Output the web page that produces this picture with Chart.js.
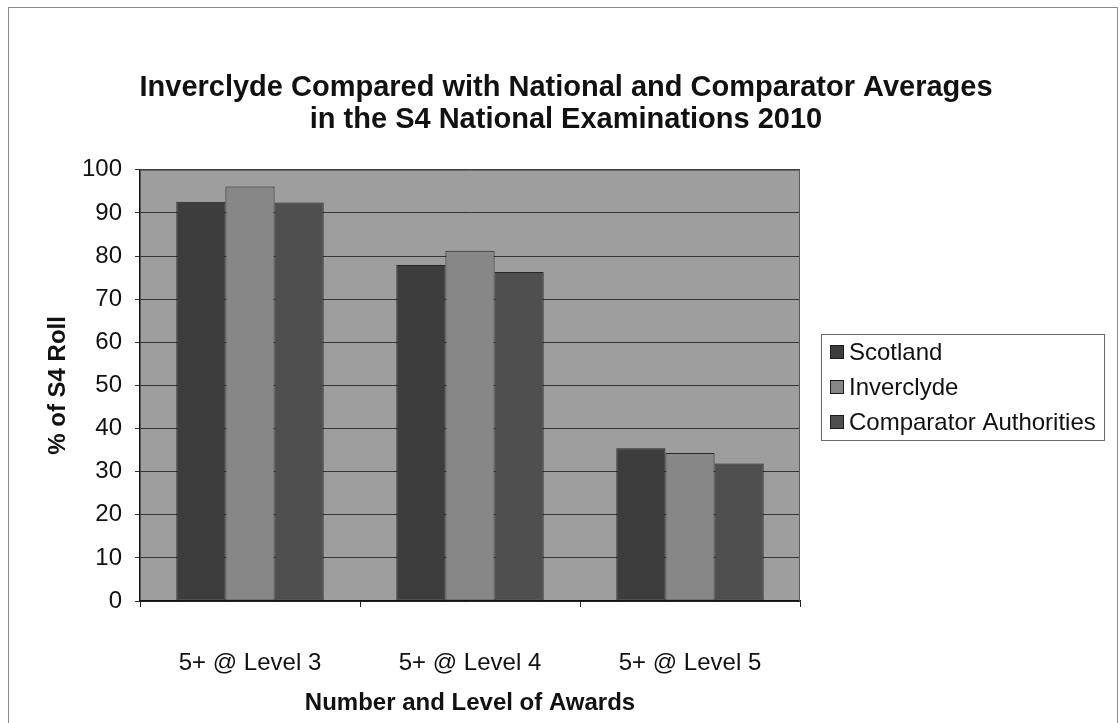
<!DOCTYPE html>
<html>
<head>
<meta charset="utf-8">
<style>
  html, body { margin: 0; padding: 0; background: #ffffff; }
  #wrap { position: relative; width: 1120px; height: 723px; }
  canvas { display: block; }
</style>
<script src="https://cdn.jsdelivr.net/npm/chart.js@4.4.1/dist/chart.umd.min.js"></script>
</head>
<body>
<div id="wrap"><canvas id="chart" width="1120" height="723"></canvas></div>
<script>
// Award categories and percentage of S4 roll for each group
const categories = ['5+ @ Level 3', '5+ @ Level 4', '5+ @ Level 5'];
const scotland = [92.6, 77.9, 35.4];
const inverclyde = [96.1, 81.2, 34.3];
const comparator = [92.4, 76.3, 31.9];
const seriesNames = ['Scotland', 'Inverclyde', 'Comparator Authorities'];
const yTicks = [0, 10, 20, 30, 40, 50, 60, 70, 80, 90, 100];
const titleLines = ['Inverclyde Compared with National and Comparator Averages',
                    'in the S4 National Examinations 2010'];

const FONT = "'Liberation Sans', Arial, sans-serif";
const colours = ['#3d3d3d', '#878787', '#4f4f4f'];

// Grey plot background, plot frame and outer frame
const backdrop = {
  id: 'backdrop',
  beforeDraw(chart) {
    const { ctx, chartArea: a } = chart;
    ctx.save();
    ctx.strokeStyle = '#8a8a8a';
    ctx.lineWidth = 1;
    ctx.strokeRect(8.5, 7.5, 1109, 740);
    ctx.fillStyle = '#9e9e9e';
    ctx.fillRect(a.left, a.top, a.right - a.left, a.bottom - a.top);
    ctx.restore();
  },
  beforeDatasetsDraw(chart) {
    const { ctx, chartArea: a } = chart;
    ctx.save();
    ctx.strokeStyle = '#5a5a5a';
    ctx.lineWidth = 1;
    ctx.beginPath();
    ctx.moveTo(a.left, a.top + 0.5);
    ctx.lineTo(a.right - 0.5, a.top + 0.5);
    ctx.lineTo(a.right - 0.5, a.bottom);
    ctx.stroke();
    ctx.restore();
  }
};

// Boxed legend occupying a layout column to the right of the plot
const boxedLegend = {
  id: 'boxedLegend',
  beforeInit(chart) {
    const box = {
      position: 'right',
      weight: 1000,
      fullSize: false,
      options: {},
      isHorizontal() { return false; },
      update(maxWidth, maxHeight) {
        this.width = 320;
        this.height = maxHeight;
        return { width: this.width, height: this.height };
      },
      getPadding() { return { top: 0, left: 0, right: 0, bottom: 0 }; },
      draw() {
        const ctx = chart.ctx;
        const x0 = this.left + 21, y0 = 334, w = 283, h = 106;
        ctx.save();
        ctx.fillStyle = '#ffffff';
        ctx.fillRect(x0, y0, w, h);
        ctx.strokeStyle = '#6a6a6a';
        ctx.lineWidth = 1;
        ctx.strokeRect(x0 + 0.5, y0 + 0.5, w, h);
        ctx.font = '24px ' + FONT;
        ctx.textBaseline = 'middle';
        ctx.textAlign = 'left';
        const rows = [352, 387, 422];
        chart.data.datasets.forEach((ds, i) => {
          const cy = rows[i];
          ctx.fillStyle = ds.backgroundColor;
          ctx.fillRect(x0 + 9, cy - 7, 14, 14);
          ctx.strokeStyle = '#1a1a1a';
          ctx.strokeRect(x0 + 9.5, cy - 6.5, 13, 13);
          ctx.fillStyle = '#111111';
          ctx.fillText(ds.label, x0 + 28, cy + 1);
        });
        ctx.restore();
      }
    };
    Chart.layouts.addBox(chart, box);
  }
};

const datasets = [scotland, inverclyde, comparator].map((vals, i) => ({
  label: seriesNames[i],
  data: vals,
  backgroundColor: colours[i],
  borderColor: '#262626',
  borderWidth: 1,
  borderSkipped: false,
  categoryPercentage: 0.67,
  barPercentage: 1.0
}));

new Chart(document.getElementById('chart'), {
  type: 'bar',
  data: { labels: categories, datasets },
  options: {
    responsive: false,
    animation: false,
    devicePixelRatio: 1,
    layout: { padding: { left: 12, top: 0, right: 0, bottom: 0 } },
    plugins: {
      legend: { display: false },
      tooltip: { enabled: false },
      title: {
        display: true,
        text: titleLines,
        color: '#111111',
        font: { family: FONT, size: 29, weight: 'bold', lineHeight: 1.1 },
        padding: { top: 72, bottom: 34 }
      }
    },
    scales: {
      x: {
        afterFit(s) { s.height = 122; },
        offset: true,
        grid: { display: true, drawOnChartArea: false, drawTicks: true, tickLength: 6, color: '#222222', offset: true },
        border: { display: true, color: '#111111', width: 1.5 },
        ticks: { color: '#111111', font: { family: FONT, size: 24 }, padding: 42 },
        title: {
          display: true,
          text: 'Number and Level of Awards',
          color: '#111111',
          font: { family: FONT, size: 24, weight: 'bold' },
          padding: { top: 0, bottom: 5 }
        }
      },
      y: {
        afterFit(s) { s.width = 128; },
        min: 0,
        max: 100,
        afterBuildTicks(s) { s.ticks = yTicks.map(v => ({ value: v })); },
        grid: { color: '#353535', lineWidth: 1, tickLength: 5, drawTicks: true },
        border: { display: true, color: '#111111', width: 1.5 },
        ticks: { color: '#111111', font: { family: FONT, size: 24 }, padding: 13 },
        title: {
          display: true,
          text: '% of S4 Roll',
          color: '#111111',
          font: { family: FONT, size: 24, weight: 'bold' },
          padding: { top: 32, bottom: 0 }
        }
      }
    }
  },
  plugins: [backdrop, boxedLegend]
});
</script>
</body>
</html>
